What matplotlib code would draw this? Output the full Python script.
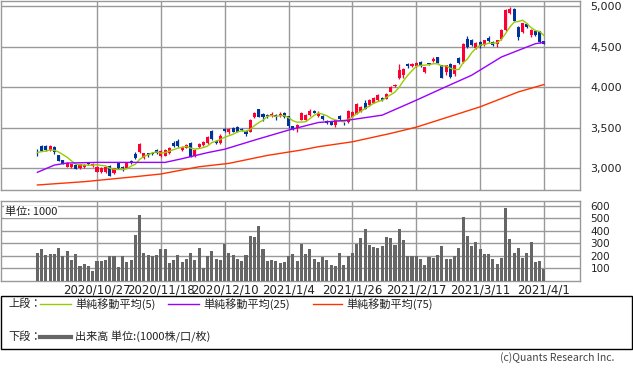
import numpy as np
import pandas as pd
import matplotlib
matplotlib.use("Agg")
import matplotlib.pyplot as plt
from matplotlib.lines import Line2D
from matplotlib.patches import Rectangle

# --- data (one row per trading day) ---
opens = [3200, 3271, 3275, 3221, 3263, 3160, 3098, 3016, 3016, 3032,
         2996, 3016, 3060, 3025, 2954, 2954, 2945, 3028, 2933, 3057,
         3016, 3005, 3090, 3172, 3201, 3118, 3180, 3190, 3221, 3150,
         3150, 3180, 3304, 3337, 3221, 3250, 3312, 3150, 3263, 3283,
         3304, 3460, 3337, 3315, 3481, 3448, 3497, 3510, 3481, 3460,
         3448, 3633, 3728, 3666, 3654, 3641, 3660, 3641, 3683, 3641,
         3518, 3501, 3600, 3592, 3654, 3703, 3641, 3645, 3584, 3567,
         3530, 3641, 3560, 3571, 3633, 3674, 3695, 3806, 3777, 3806,
         3839, 3872, 3860, 3942, 4012, 4110, 4150, 4285, 4260, 4263,
         4310, 4185, 4295, 4325, 4370, 4271, 4189, 4292, 4160, 4366,
         4313, 4600, 4580, 4490, 4565, 4518, 4615, 4565, 4530, 4600,
         4712, 4915, 4971, 4745, 4683, 4778, 4650, 4695, 4695, 4568]
highs = [3230, 3280, 3290, 3280, 3270, 3165, 3100, 3070, 3055, 3040,
         3050, 3045, 3070, 3060, 3025, 3010, 3020, 3035, 3000, 3065,
         3025, 3065, 3100, 3193, 3312, 3190, 3190, 3200, 3240, 3225,
         3230, 3260, 3335, 3355, 3275, 3300, 3320, 3230, 3305, 3335,
         3395, 3470, 3345, 3425, 3495, 3490, 3505, 3515, 3500, 3470,
         3610, 3690, 3735, 3675, 3665, 3695, 3665, 3690, 3690, 3645,
         3525, 3540, 3690, 3665, 3736, 3720, 3700, 3655, 3600, 3575,
         3600, 3660, 3570, 3715, 3700, 3805, 3765, 3840, 3855, 3880,
         3920, 3880, 3930, 4015, 4045, 4290, 4240, 4295, 4300, 4310,
         4320, 4255, 4300, 4380, 4380, 4280, 4280, 4300, 4280, 4375,
         4550, 4640, 4600, 4560, 4575, 4590, 4630, 4575, 4590, 4720,
         4965, 4995, 4975, 4755, 4800, 4790, 4720, 4705, 4700, 4575]
lows = [3150, 3205, 3215, 3210, 3172, 3085, 3045, 3010, 3005, 2985,
        2990, 3005, 3040, 3015, 2945, 2940, 2935, 2895, 2925, 2990,
        2965, 3000, 3050, 3110, 3190, 3110, 3140, 3165, 3170, 3140,
        3145, 3170, 3265, 3260, 3210, 3245, 3135, 3140, 3250, 3275,
        3295, 3345, 3295, 3300, 3445, 3420, 3440, 3440, 3460, 3390,
        3440, 3615, 3625, 3580, 3615, 3630, 3590, 3630, 3615, 3489,
        3470, 3448, 3590, 3585, 3645, 3675, 3630, 3600, 3540, 3530,
        3510, 3600, 3530, 3560, 3625, 3665, 3690, 3730, 3770, 3800,
        3830, 3830, 3850, 3935, 4000, 4100, 4120, 4240, 4250, 4255,
        4255, 4170, 4275, 4315, 4295, 4110, 4150, 4120, 4140, 4290,
        4300, 4490, 4510, 4470, 4480, 4505, 4560, 4510, 4500, 4590,
        4700, 4905, 4815, 4588, 4670, 4735, 4621, 4635, 4550, 4530]
closes = [3192, 3213, 3221, 3271, 3193, 3090, 3049, 3057, 3049, 2990,
          3045, 3040, 3050, 3050, 3016, 3000, 3016, 2900, 2995, 2995,
          3000, 3057, 3060, 3118, 3295, 3180, 3165, 3175, 3180, 3215,
          3221, 3250, 3270, 3270, 3263, 3283, 3140, 3221, 3295, 3324,
          3386, 3353, 3304, 3400, 3460, 3477, 3448, 3448, 3470, 3420,
          3600, 3683, 3633, 3625, 3645, 3665, 3625, 3674, 3633, 3518,
          3477, 3530, 3683, 3654, 3707, 3683, 3674, 3612, 3560, 3538,
          3592, 3612, 3551, 3707, 3695, 3798, 3757, 3736, 3847, 3868,
          3901, 3839, 3921, 4004, 4032, 4209, 4230, 4260, 4292, 4304,
          4265, 4245, 4285, 4355, 4300, 4120, 4271, 4130, 4271, 4304,
          4539, 4495, 4518, 4550, 4505, 4580, 4568, 4520, 4580, 4710,
          4955, 4965, 4819, 4621, 4790, 4745, 4710, 4645, 4560, 4539]
volumes = [224, 256, 208, 216, 216, 264, 195, 235, 164, 216,
           116, 129, 116, 77, 161, 156, 169, 198, 198, 108,
           195, 145, 169, 369, 528, 224, 208, 195, 203, 251,
           251, 137, 164, 208, 150, 172, 224, 164, 264, 103,
           195, 235, 172, 164, 290, 224, 208, 172, 156, 208,
           361, 354, 441, 256, 156, 164, 156, 142, 150, 195,
           216, 156, 295, 210, 250, 170, 146, 186, 162, 122,
           114, 218, 122, 194, 218, 293, 346, 418, 282, 266,
           258, 274, 354, 346, 282, 418, 330, 194, 194, 194,
           170, 122, 186, 178, 202, 274, 170, 170, 194, 258,
           513, 362, 274, 306, 250, 210, 210, 170, 130, 178,
           585, 338, 218, 258, 178, 218, 306, 146, 154, 93]

# 25- and 75-day averages (day index, value)
ma25_idx = [0, 4, 7, 14, 30, 34, 40, 44, 51, 59, 66, 73, 81, 89, 95, 102, 109, 113, 117, 119]
ma25_val = [2946, 3036, 3061, 3069, 3069, 3115, 3190, 3232, 3345, 3469,
            3563, 3592, 3654, 3839, 3983, 4148, 4374, 4457, 4539, 4555]
ma75_idx = [0, 11, 23, 29, 38, 45, 54, 62, 66, 74, 83, 89, 104, 113, 119]
ma75_val = [2789, 2830, 2892, 2925, 3015, 3057, 3155, 3222, 3263, 3324,
            3428, 3505, 3757, 3942, 4033]

date_idx = [14, 29, 44, 59, 74, 89, 104, 119]
date_labels = ["2020/10/27", "2020/11/18", "2020/12/10", "2021/1/4",
               "2021/1/26", "2021/2/17", "2021/3/11", "2021/4/1"]
price_ticks = [3000, 3500, 4000, 4500, 5000]
vol_ticks = [100, 200, 300, 400, 500, 600]

RED = "#ff0033"
BLUE = "#003399"
GRID = "#999999"
JP = ["Noto Sans CJK JP", "DejaVu Sans"]

W, H = 633, 372
fig = plt.figure(figsize=(W / 100, H / 100), dpi=100)


def fx(px):
    return px / W


def fy(py):
    return 1 - py / H


ax = fig.add_axes([fx(0.5), fy(190), 579 / W, 189.5 / H])
axv = fig.add_axes([fx(0.5), fy(280.5), 579 / W, 79.5 / H])

o = np.array(opens)
c = np.array(closes)
x = np.arange(len(c))
cols = np.where(c >= o, RED, BLUE)

# candles
ax.vlines(x, lows, highs, colors=cols, lw=0.9, zorder=3)
body = np.maximum(np.abs(c - o), 8)
ax.bar(x, body, bottom=np.minimum(o, c), width=0.72, color=cols, lw=0, zorder=3)

ma5 = pd.Series(closes).rolling(5, min_periods=1).mean()
ax.plot(x, ma5, color="#99cc00", lw=1.0, zorder=4)
ax.plot(ma25_idx, ma25_val, color="#9900ff", lw=1.0, zorder=4)
ax.plot(ma75_idx, ma75_val, color="#ff3300", lw=1.0, zorder=4)

axv.bar(x, volumes, width=0.72, color="#666666", lw=0, zorder=3)

xlim = (-8.67, 127.35)
for a in (ax, axv):
    a.set_xlim(*xlim)
    a.set_xticks(date_idx)
    a.grid(True, color=GRID, lw=1.0, zorder=0)
    a.set_axisbelow(True)
    for s in a.spines.values():
        s.set_color(GRID)
        s.set_linewidth(1.0)
    a.yaxis.tick_right()
    a.tick_params(length=0, colors="#222222")

ax.set_ylim(2727, 5074)
ax.set_yticks(price_ticks)
ax.set_yticklabels([f"{v:,}" for v in price_ticks], fontsize=8)
ax.tick_params(axis="y", pad=8)
ax.set_xticklabels([])

axv.set_ylim(0, 640)
axv.set_yticks(vol_ticks)
axv.set_yticklabels([str(v) for v in vol_ticks], fontsize=7.5)
axv.tick_params(axis="y", pad=8)
axv.set_xticklabels(date_labels, fontsize=8.5)
axv.tick_params(axis="x", pad=2)
axv.text(0.008, 0.93, "単位: 1000", transform=axv.transAxes, fontsize=8,
         family=JP, va="top", ha="left", color="#222222",
         bbox=dict(facecolor="white", edgecolor="none", pad=0.5), zorder=5)

# legend box
fig.add_artist(Rectangle((fx(0.5), fy(349)), 631.5 / W, 53 / H, transform=fig.transFigure,
                         facecolor="white", edgecolor="black", lw=1.0))
legend_top = [("#99cc00", 40, 71, 75, "単純移動平均(5)"),
              ("#9900ff", 168, 199, 203, "単純移動平均(25)"),
              ("#ff3300", 313, 342, 346, "単純移動平均(75)")]
fig.text(fx(8), fy(304), "上段：", fontsize=8, family=JP, va="center", color="#222222")
for col, x0, x1, tx, lab in legend_top:
    fig.add_artist(Line2D([fx(x0), fx(x1)], [fy(304), fy(304)], color=col, lw=1.0,
                          transform=fig.transFigure))
    fig.text(fx(tx), fy(304), lab, fontsize=8, family=JP, va="center", color="#222222")
fig.text(fx(8), fy(337), "下段：", fontsize=8, family=JP, va="center", color="#222222")
fig.add_artist(Line2D([fx(40), fx(71)], [fy(337), fy(337)], color="#666666", lw=3.0,
                      transform=fig.transFigure))
fig.text(fx(75), fy(337), "出来高 単位:(1000株/口/枚)", fontsize=8, family=JP,
         va="center", color="#222222")

fig.text(fx(614), fy(358), "(c)Quants Research Inc.", fontsize=7.5, family=JP,
         ha="right", va="center", color="#444444")

fig.savefig("out.png", dpi=100, facecolor="white")
